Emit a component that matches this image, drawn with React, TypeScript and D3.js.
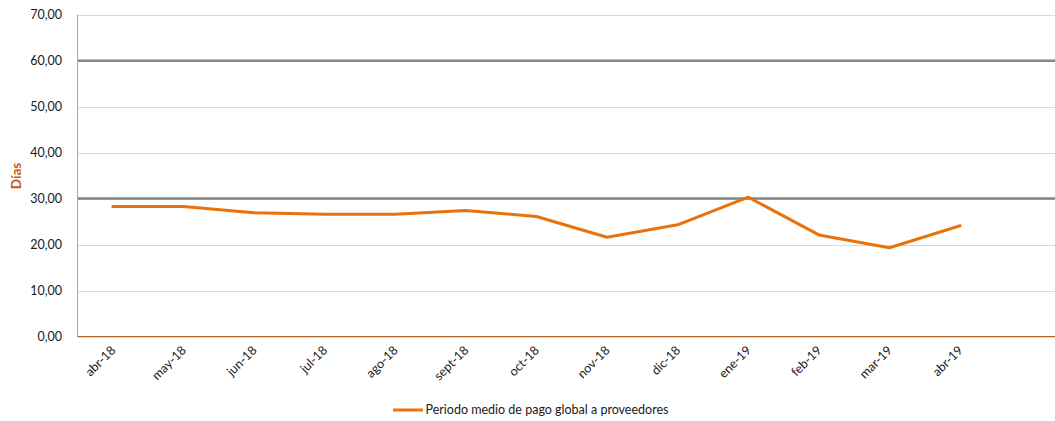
import React from "react";
import * as d3 from "d3";

const categories = ["abr-18","may-18","jun-18","jul-18","ago-18","sept-18","oct-18","nov-18","dic-18","ene-19","feb-19","mar-19","abr-19"];
const values = [28.3, 28.3, 26.9, 26.6, 26.6, 27.4, 26.1, 21.6, 24.3, 30.3, 22.1, 19.3, 24.1];
const yTicks = [0, 10, 20, 30, 40, 50, 60, 70];
const refLines = [30, 60];
const seriesName = "Periodo medio de pago global a proveedores";
const yTitle = "Días";

const W = 1055, H = 421;
const FONT = "Lato, 'Open Sans', sans-serif";

export default function App() {
  const left = 77.5, right = 1066, top = 14.7, bottom = 336.5;
  const bandDomain = [...categories, "_extra"];
  const x = d3.scaleBand().domain(bandDomain).range([left, right]);
  const cx = (c: string) => (x(c) as number) + x.bandwidth() / 2;
  const y = d3.scaleLinear().domain([0, 70]).range([bottom, top]);
  const line = d3.line<number>().x((_, i) => cx(categories[i])).y((v) => y(v));
  const fmt = (v: number) => v.toFixed(2).replace(".", ",");

  return (
    <svg width={W} height={H} style={{ position: "absolute", left: 0, top: 0, background: "#fff" }} fontFamily={FONT}>
      {yTicks.map((t) => (
        <line key={"g" + t} x1={left} x2={right} y1={Math.round(y(t)) + 0.5} y2={Math.round(y(t)) + 0.5} stroke="#d9d9d9" strokeWidth={1} />
      ))}
      {refLines.map((r) => (
        <line key={"r" + r} x1={left} x2={right} y1={y(r)} y2={y(r)} stroke="#868686" strokeWidth={2.5} />
      ))}
      <line x1={left} x2={left} y1={top} y2={bottom} stroke="#a6a6a6" strokeWidth={1} />
      <line x1={left} x2={right} y1={bottom} y2={bottom} stroke="#b0642a" strokeWidth={1.2} />
      {yTicks.map((t) => (
        <text key={"yl" + t} x={62} y={y(t)} dy="0.35em" textAnchor="end" fontSize={12.5} fill="#1a1a1a">{fmt(t)}</text>
      ))}
      <text transform={`translate(21,176) rotate(-90)`} textAnchor="middle" fontSize={13.5} fontWeight="bold" fill="#c55a11">{yTitle}</text>
      {categories.map((c) => (
        <text key={"xl" + c} transform={`translate(${cx(c) + 3.5},${351}) rotate(-45)`} textAnchor="end" fontSize={12.5} fill="#1a1a1a">{c}</text>
      ))}
      <path d={line(values) || ""} fill="none" stroke="#e8720c" strokeWidth={3} strokeLinejoin="round" strokeLinecap="round" />
      <line x1={393} x2={423} y1={410} y2={410} stroke="#e8720c" strokeWidth={3} />
      <text x={425.5} y={410} dy="0.35em" fontSize={12.5} fill="#1a1a1a">{seriesName}</text>
    </svg>
  );
}
